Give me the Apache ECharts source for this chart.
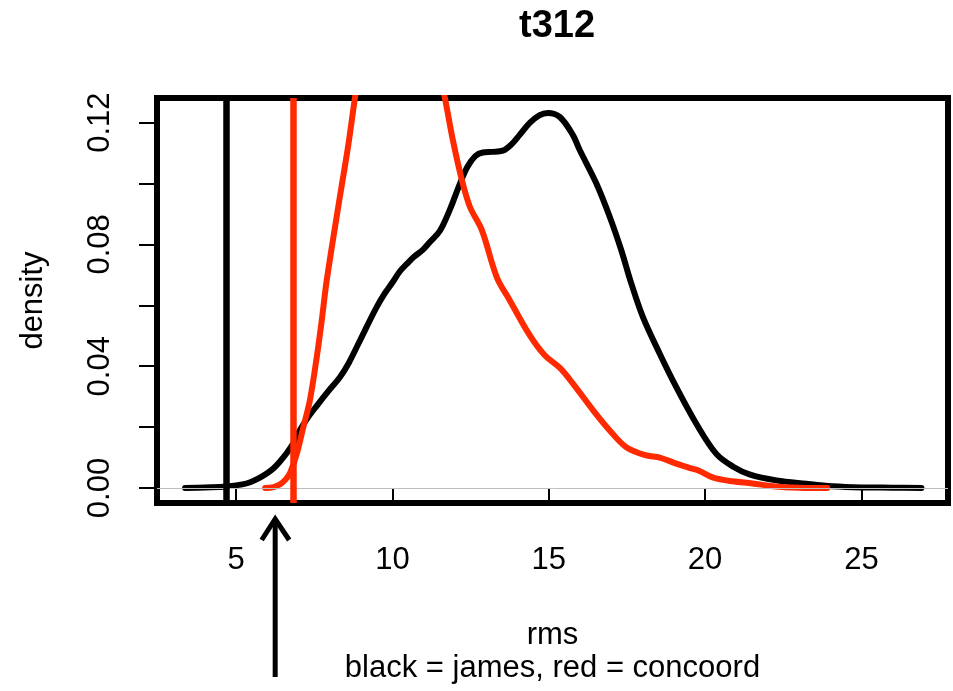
<!DOCTYPE html>
<html>
<head>
<meta charset="utf-8">
<script src="https://cdn.jsdelivr.net/npm/echarts@6/dist/echarts.min.js"></script>
<style>
html,body{margin:0;padding:0;background:#fff;}
#c{width:953px;height:691px;}
</style>
</head>
<body>
<div id="c"></div>
<script>
// ---- data ----
const titleText = 't312';
const xLabel = 'rms';
const subLabel = 'black = james, red = concoord';
const yLabel = 'density';

const xTickValues = [5, 10, 15, 20, 25];
const yTickValues = [0, 0.02, 0.04, 0.06, 0.08, 0.10, 0.12];
const yLabelValues = [0, 0.04, 0.08, 0.12];

const xRange = [2.47, 27.77];
const yRange = [-0.00493, 0.1281];

// black = james density
const jamesX = [3.37, 4.0, 4.70, 5.2, 5.45, 5.7, 5.98, 6.2, 6.41, 6.62, 6.82, 7.04, 7.3, 7.58, 7.95, 8.32, 8.6, 8.86, 9.18, 9.5, 9.76, 10.0, 10.24, 10.45, 10.7, 10.97, 11.2, 11.52, 11.84, 12.16, 12.4, 12.65, 12.89, 13.2, 13.53, 13.8, 14.07, 14.4, 14.71, 14.97, 15.35, 15.77, 15.99, 16.52, 16.95, 17.32, 17.64, 18.01, 18.55, 19.08, 19.72, 20.36, 20.9, 21.42, 22.28, 23.24, 24.07, 25.0, 26.0, 26.92];
const jamesY = [0.0000, 0.0002, 0.0005, 0.0012, 0.0019, 0.0031, 0.0048, 0.0065, 0.0088, 0.0115, 0.0145, 0.0190, 0.0232, 0.0270, 0.0318, 0.0364, 0.0410, 0.0463, 0.0530, 0.0595, 0.0640, 0.0675, 0.0712, 0.0735, 0.0760, 0.0782, 0.0808, 0.0845, 0.0915, 0.1000, 0.1055, 0.1090, 0.1102, 0.1104, 0.1108, 0.1128, 0.1160, 0.1200, 0.1225, 0.1232, 0.1219, 0.1160, 0.1110, 0.1001, 0.0891, 0.0781, 0.0672, 0.0562, 0.0441, 0.0331, 0.0211, 0.0112, 0.0070, 0.0045, 0.0025, 0.0014, 0.0006, 0.0002, 0.0001, 0.0000];

// red = concoord density
const concoordX = [5.93, 6.2, 6.41, 6.6, 6.73, 6.94, 7.15, 7.36, 7.58, 7.74, 7.9, 8.32, 8.58, 8.8, 9.1, 9.5, 10.0, 10.5, 11.0, 11.35, 11.68, 11.93, 12.22, 12.48, 12.86, 13.34, 13.75, 14.39, 14.87, 15.35, 15.78, 16.42, 16.95, 17.48, 18.12, 18.55, 19.08, 19.5, 19.82, 20.24, 20.88, 21.52, 22.16, 23.02, 23.91];
const concoordY = [0.0000, 0.0003, 0.0012, 0.0030, 0.0050, 0.0112, 0.0200, 0.0288, 0.0430, 0.0551, 0.0683, 0.0957, 0.1121, 0.1280, 0.1480, 0.1650, 0.1770, 0.1780, 0.1620, 0.1430, 0.1280, 0.1144, 0.1012, 0.0923, 0.0847, 0.0692, 0.0617, 0.0502, 0.0436, 0.0395, 0.0342, 0.0255, 0.0189, 0.0134, 0.0107, 0.0100, 0.0080, 0.0066, 0.0056, 0.0035, 0.0022, 0.0015, 0.0006, 0.0001, 0.0000];

// vertical reference lines
const jamesVLine = 4.68;
const concoordVLine = 6.82;
// arrow marker position on x
const arrowX = 6.25;

const RED = '#ff2a00';
const FONT = '"Liberation Sans", Arial, Helvetica, sans-serif';

const zip = (xs, ys) => xs.map((x, i) => [x, ys[i]]);

const chart = echarts.init(document.getElementById('c'), null, {renderer: 'canvas'});

const gridRect = {left: 157, top: 98, width: 791, height: 405};

chart.setOption({
  animation: false,
  backgroundColor: '#fff',
  title: {
    text: titleText,
    left: 552,
    top: 3,
    textAlign: 'center',
    textStyle: {fontFamily: FONT, fontSize: 38, fontWeight: 'bold', color: '#000'}
  },
  grid: {
    left: gridRect.left, top: gridRect.top, width: gridRect.width, height: gridRect.height,
    show: true, borderColor: '#000', borderWidth: 6, backgroundColor: 'transparent',
    containLabel: false
  },
  xAxis: {
    type: 'value',
    min: xRange[0], max: xRange[1],
    axisLine: {show: false},
    splitLine: {show: false},
    axisTick: {show: true, length: 18, inside: false, customValues: xTickValues,
      lineStyle: {color: '#000', width: 2}},
    axisLabel: {show: true, customValues: xTickValues, margin: 42,
      fontFamily: FONT, fontSize: 31, color: '#000'},
    name: xLabel + '\n' + subLabel,
    nameLocation: 'middle',
    nameGap: 116,
    nameTextStyle: {fontFamily: FONT, fontSize: 31, color: '#000', lineHeight: 33}
  },
  yAxis: {
    type: 'value',
    min: yRange[0], max: yRange[1],
    axisLine: {show: false},
    splitLine: {show: false},
    axisTick: {show: true, length: 18, inside: false, customValues: yTickValues,
      lineStyle: {color: '#000', width: 2}},
    axisLabel: {show: true, customValues: yLabelValues, rotate: 90, margin: 41,
      formatter: v => v.toFixed(2),
      fontFamily: FONT, fontSize: 31, color: '#000'},
    name: yLabel,
    nameLocation: 'middle',
    nameGap: 108,
    nameTextStyle: {fontFamily: FONT, fontSize: 31, color: '#000'}
  },
  series: [
    {
      type: 'line',
      name: 'zero',
      data: [],
      z: 1,
      silent: true,
      markLine: {
        silent: true, symbol: 'none', label: {show: false},
        lineStyle: {color: '#bebebe', width: 1, type: 'solid'},
        data: [{yAxis: 0}]
      }
    },
    {
      type: 'line',
      name: 'james',
      data: zip(jamesX, jamesY),
      smooth: 0.35,
      showSymbol: false,
      clip: true,
      z: 3,
      lineStyle: {color: '#000', width: 6, cap: 'round', join: 'round'},
      markLine: {
        silent: true, symbol: 'none', label: {show: false},
        lineStyle: {color: '#000', width: 6.5, type: 'solid', cap: 'butt'},
        data: [{xAxis: jamesVLine}]
      }
    },
    {
      type: 'line',
      name: 'concoord',
      data: zip(concoordX, concoordY),
      smooth: 0.35,
      showSymbol: false,
      clip: true,
      z: 4,
      lineStyle: {color: RED, width: 6, cap: 'round', join: 'round'},
      markLine: {
        silent: true, symbol: 'none', label: {show: false},
        lineStyle: {color: RED, width: 6.5, type: 'solid', cap: 'butt'},
        data: [{xAxis: concoordVLine}]
      }
    }
  ]
});

// arrow below the x axis, x position from the axis scale
const ax = chart.convertToPixel({xAxisIndex: 0}, arrowX);
const bottom = gridRect.top + gridRect.height;
const tipY = bottom + 16;
const tailY = bottom + 174;
chart.setOption({
  graphic: [
    {type: 'line', shape: {x1: ax, y1: tipY, x2: ax, y2: tailY},
      style: {stroke: '#000', lineWidth: 5}},
    {type: 'polyline', shape: {points: [[ax - 13.5, tipY + 21], [ax, tipY], [ax + 14, tipY + 21]]},
      style: {stroke: '#000', lineWidth: 5, fill: null, lineJoin: 'miter'}}
  ]
});
</script>
</body>
</html>
